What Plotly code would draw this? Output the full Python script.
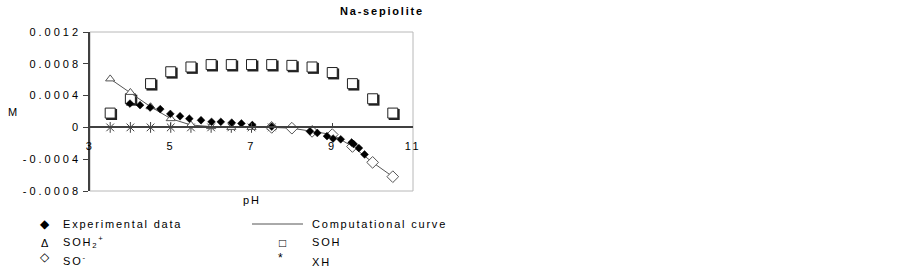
import plotly.graph_objects as go

# ---------------- data ----------------
exp_ph = [3.99, 4.24, 4.49, 4.74, 4.99, 5.23, 5.46, 5.75, 6.01, 6.24, 6.51, 6.75, 7.02, 7.5,
          8.45, 8.63, 8.87, 9.02, 9.21, 9.48, 9.53, 9.66, 9.8]
exp_m = [0.00030, 0.00028, 0.00025, 0.00023, 0.00017, 0.00014, 0.00011, 0.00009, 0.00007,
         0.00007, 0.00006, 0.00005, 0.00003, 0.00001,
         -0.00005, -0.00007, -0.00011, -0.00014, -0.00015, -0.00019, -0.00021, -0.00026, -0.00034]

soh_ph = [3.5, 4.0, 4.5, 5.0, 5.5, 6.0, 6.5, 7.0, 7.5, 8.0, 8.5, 9.0, 9.5, 10.0, 10.5]
soh_m = [0.00018, 0.00036, 0.00055, 0.00070, 0.00076, 0.00079, 0.00079, 0.00079, 0.00079,
         0.00078, 0.00076, 0.00069, 0.00055, 0.00036, 0.00018]

soh2_ph = [3.5, 4.0, 4.5, 5.0, 5.5, 6.0, 6.5, 7.0, 7.5]
soh2_m = [0.00061, 0.00044, 0.00026, 0.00011, 0.00003, 0.00001, 0.0, 0.0, 0.0]

so_ph = [7.5, 8.0, 8.5, 9.0, 9.5, 10.0, 10.5]
so_m = [0.0, -0.00001, -0.00005, -0.00009, -0.00024, -0.00044, -0.00062]

xh_ph = [3.5, 4.0, 4.5, 5.0, 5.5, 6.0, 6.5, 7.0, 7.5]
xh_m = [0, 0, 0, 0, 0, 0, 0, 0, 0]

x_ticks = [3, 5, 7, 9, 11]
y_ticks = [-0.0008, -0.0004, 0, 0.0004, 0.0008, 0.0012]
y_ticktext = ["-0.0008", "-0.0004", "0", "0.0004", "0.0008", "0.0012"]

# ---------------- layout geometry ----------------
W, H = 903, 269
L, R, T, B = 90, 413, 32, 191
XR = [3, 11]
YR = [-0.0008, 0.0012]
FONT = "Liberation Sans, Arial, sans-serif"


def sp(text, ls=2.0):
    return f'<span style="letter-spacing:{ls}px">{text}</span>'


def px(x, y):
    return (x - L) / (R - L), (B - y) / (B - T)


# shadow offset (pixels) for square markers, via an overlaid axis pair
dx_px, dy_px = 1.4, 1.4
xper = (XR[1] - XR[0]) / (R - L)
yper = (YR[1] - YR[0]) / (B - T)

fig = go.Figure()

# XH (main axes, bottom layer)
fig.add_trace(go.Scatter(x=xh_ph, y=xh_m, mode="markers", name="XH",
                         marker=dict(symbol="asterisk-open", size=9, color="#444",
                                     line=dict(width=1, color="#444"))))
# square shadows (shifted overlay axes x2/y2)
fig.add_trace(go.Scatter(x=soh_ph, y=soh_m, mode="markers", xaxis="x2", yaxis="y2",
                         marker=dict(symbol="square", size=11, color="#222",
                                     line=dict(width=0)),
                         showlegend=False, hoverinfo="skip"))
# SOH squares
fig.add_trace(go.Scatter(x=soh_ph, y=soh_m, mode="markers", name="SOH",
                         xaxis="x3", yaxis="y3",
                         marker=dict(symbol="square", size=10, color="white",
                                     line=dict(width=1, color="#222"))))
# SOH2+ with computational curve
fig.add_trace(go.Scatter(x=soh2_ph, y=soh2_m, mode="lines+markers", name="SOH2+",
                         xaxis="x3", yaxis="y3",
                         line=dict(color="#555", width=1),
                         marker=dict(symbol="triangle-up", size=8, color="white",
                                     line=dict(width=1, color="#555"))))
# SO- with computational curve
fig.add_trace(go.Scatter(x=so_ph, y=so_m, mode="lines+markers", name="SO-",
                         xaxis="x3", yaxis="y3",
                         line=dict(color="#555", width=1),
                         marker=dict(symbol="diamond", size=9, color="white",
                                     line=dict(width=1, color="#555"))))
# Experimental
fig.add_trace(go.Scatter(x=exp_ph, y=exp_m, mode="markers", name="Experimental data",
                         xaxis="x3", yaxis="y3",
                         marker=dict(symbol="diamond", size=6, color="black",
                                     line=dict(width=0.5, color="black"))))

annotations = []


def ann(text, x, y, xanchor="left", size=11, bold=False):
    ax, ay = px(x, y)
    t = f"<b>{text}</b>" if bold else text
    annotations.append(dict(text=t, x=ax, y=ay, xref="paper", yref="paper",
                            xanchor=xanchor, yanchor="middle", showarrow=False,
                            font=dict(size=size, family=FONT, color="black")))


ann(sp("Na-sepiolite", 1.8), 382, 11, xanchor="center", size=11, bold=True)
ann(sp("M", 1), 13, 112, xanchor="center", size=11)
ann(sp("pH", 2), 252, 200, xanchor="center", size=11)

# legend (manual, two columns)
ann("◆", 45, 224, xanchor="center", size=12)
ann(sp("Experimental data", 1.8), 61, 224)
ann("Δ", 45, 243, xanchor="center", size=11)
ann(sp("SOH<sub>2</sub><sup>+</sup>", 1.8), 61, 242)
ann("◇", 45, 257, xanchor="center", size=12)
ann(sp("SO<sup>-</sup>", 1.8), 61, 260)
ann(sp("Computational curve", 1.8), 310, 224)
ann("□", 282, 243, xanchor="center", size=12)
ann(sp("SOH", 1.8), 310, 242)
ann("*", 280, 258, xanchor="center", size=12)
ann(sp("XH", 1.8), 310, 262)

lx0, ly = px(252, 224)
lx1, _ = px(303, 224)

shapes = [
    dict(type="rect", xref="paper", yref="paper", x0=0, x1=1, y0=0, y1=1,
         line=dict(color="#b8b8b8", width=1), layer="below"),
    dict(type="line", xref="paper", yref="paper", x0=lx0, x1=lx1, y0=ly, y1=ly,
         line=dict(color="#555", width=1)),
]

fig.update_layout(
    width=W, height=H,
    margin=dict(l=L, r=W - R, t=T, b=H - B, pad=0),
    paper_bgcolor="white", plot_bgcolor="white",
    showlegend=False,
    font=dict(family=FONT, size=11, color="black"),
    xaxis=dict(range=XR, tickvals=x_ticks, ticktext=[sp(str(v), 2.5) for v in x_ticks],
               anchor="free", position=(0 - YR[0]) / (YR[1] - YR[0]),
               showline=True, linecolor="#404040", linewidth=1.5,
               ticks="inside", ticklen=4, tickcolor="#404040", tickwidth=1,
               showgrid=False, zeroline=False, ticklabelstandoff=9,
               tickfont=dict(size=11, family=FONT, color="black")),
    yaxis=dict(range=YR, tickvals=y_ticks, ticktext=[sp(t, 3) for t in y_ticktext],
               showline=True, linecolor="#404040", linewidth=1.5,
               ticks="outside", ticklen=5, tickcolor="#404040", tickwidth=1,
               showgrid=False, zeroline=False,
               tickfont=dict(size=11, family=FONT, color="black")),
    xaxis2=dict(range=[XR[0] - dx_px * xper, XR[1] - dx_px * xper], overlaying="x",
                visible=False, anchor="y2"),
    yaxis2=dict(range=[YR[0] + dy_px * yper, YR[1] + dy_px * yper], overlaying="y",
                visible=False, anchor="x2"),
    xaxis3=dict(range=XR, overlaying="x", visible=False, anchor="y3"),
    yaxis3=dict(range=YR, overlaying="y", visible=False, anchor="x3"),
    annotations=annotations,
    shapes=shapes,
)

fig.write_html("out.html", config={"displayModeBar": False},
               post_script="document.body.style.margin='0px';")
